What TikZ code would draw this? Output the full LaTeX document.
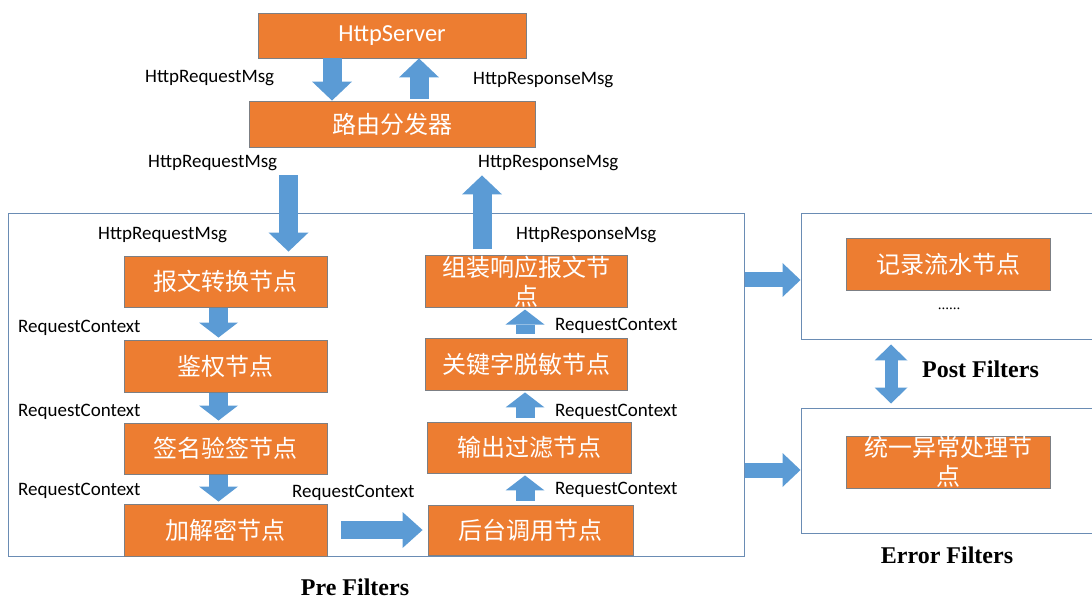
\documentclass[tikz,border=0pt]{standalone}
\usepackage{fontspec}
\setmainfont{Carlito}
\newfontfamily\cjk{Noto Sans CJK SC}
\newfontfamily\tnr{Liberation Serif}
\usetikzlibrary{arrows.meta}

\definecolor{boxfill}{HTML}{ED7D31}
\definecolor{boxline}{HTML}{7C7F84}
\definecolor{flow}{HTML}{5B9BD5}
\definecolor{frameline}{HTML}{6A8CB4}

\tikzset{
  proc/.style={fill=boxfill, draw=boxline, line width=0.9pt, inner sep=0pt,
    text=white, align=center, font=\cjk\fontsize{24}{29}\selectfont},
  frame/.style={draw=frameline, line width=1pt, inner sep=0pt},
  lbl/.style={font=\fontsize{19}{22}\selectfont, inner sep=0pt, anchor=west},
  title/.style={font=\tnr\bfseries\fontsize{24}{28}\selectfont, inner sep=0pt},
  bigflow/.style={draw=flow, line width=19pt, line cap=butt,
    -{Triangle[width=40pt,length=19pt,line width=0pt]}},
  stepflow/.style={draw=flow, line width=19pt, line cap=butt,
    -{Triangle[width=39pt,length=15pt,line width=0pt]}},
  passflow/.style={draw=flow, line width=18pt, line cap=butt,
    -{Triangle[width=36pt,length=20pt,line width=0pt]}},
  sideflow/.style={draw=flow, line width=15pt, line cap=butt,
    -{Triangle[width=34pt,length=18pt,line width=0pt]}},
  bothflow/.style={draw=flow, line width=13pt, line cap=butt,
    {Triangle[width=33pt,length=16pt,line width=0pt]}-{Triangle[width=33pt,length=16pt,line width=0pt]}},
}

\begin{document}
\begin{tikzpicture}[x=1pt,y=-1pt]
\useasboundingbox (0,0) rectangle (1092,601);

% filter frames
\node[frame, minimum width=736pt, minimum height=342pt] (pre) at (376,385) {};
\node[frame, minimum width=299pt, minimum height=126pt] (post) at (950.5,277) {};
\node[frame, minimum width=299pt, minimum height=125pt] (errf) at (950.5,470.5) {};

% entry boxes
\node[proc, minimum width=268pt, minimum height=45pt,
      font=\fontsize{24.5}{29}\selectfont] (srv) at (392,35.5) {HttpServer};
\node[proc, minimum width=286pt, minimum height=46pt] (router) at (392,124) {路由分发器};

% pre filter chain
\node[proc, minimum width=203pt, minimum height=51pt] (conv)  at (225.5,281.5) {报文转换节点};
\node[proc, minimum width=203pt, minimum height=52pt] (auth)  at (225.5,366) {鉴权节点};
\node[proc, minimum width=203pt, minimum height=51pt] (sign)  at (225.5,448.5) {签名验签节点};
\node[proc, minimum width=203pt, minimum height=52pt] (crypt) at (225.5,530) {加解密节点};
\node[proc, minimum width=205pt, minimum height=50pt] (call)  at (530.5,530) {后台调用节点};
\node[proc, minimum width=204pt, minimum height=51pt] (filt)  at (529,447.5) {输出过滤节点};
\node[proc, minimum width=202pt, minimum height=52pt] (mask)  at (526,364) {关键字脱敏节点};
\node[proc, minimum width=202pt, minimum height=51pt] (assem) at (526,281.5) {组装响应报文节\\点};

% post / error filters
\node[proc, minimum width=204pt, minimum height=52pt] (log) at (948,264) {记录流水节点};
\node[proc, minimum width=204pt, minimum height=52pt] (err) at (948,462) {统一异常处理节\\点};
\node[font=\tnr\fontsize{15}{16}\selectfont, inner sep=0pt] (more) at (949,309) {......};

% guide coordinates for the arrows
\coordinate (ax1) at (332,0);
\coordinate (ax2) at (419,0);
\coordinate (ax3) at (288.5,0);
\coordinate (ax4) at (482,0);
\coordinate (lx)  at (218.5,0);
\coordinate (rx)  at (525,0);
\coordinate (ax5) at (891,0);
\coordinate (ay)  at (0,530);
\coordinate (ay1) at (0,280);
\coordinate (ay2) at (0,470);

% arrows
\draw[bigflow] (srv.south -| ax1) -- (router.north -| ax1);
\draw[bigflow, shorten <=2pt] (router.north -| ax2) -- (srv.south -| ax2);
\draw[bigflow, shorten <=28pt, shorten >=4pt] (router.south -| ax3) -- (conv.north -| ax3);
\draw[bigflow, shorten <=6pt, shorten >=28pt] (assem.north -| ax4) -- (router.south -| ax4);

\draw[stepflow, shorten <=1pt, shorten >=2pt] (conv.south -| lx) -- (auth.north -| lx);
\draw[stepflow, shorten <=1pt, shorten >=2pt] (auth.south -| lx) -- (sign.north -| lx);
\draw[stepflow, shorten <=1pt, shorten >=2pt] (sign.south -| lx) -- (crypt.north -| lx);

\draw[passflow, shorten <=14pt, shorten >=5pt] (crypt.east |- ay) -- (call.west |- ay);

\draw[stepflow, shorten <=4pt, shorten >=2pt] (call.north -| rx) -- (filt.south -| rx);
\draw[stepflow, shorten <=4pt, shorten >=2pt] (filt.north -| rx) -- (mask.south -| rx);
\draw[stepflow, shorten <=4pt, shorten >=2pt] (mask.north -| rx) -- (assem.south -| rx);

\draw[sideflow] (pre.east |- ay1) -- (post.west |- ay1);
\draw[sideflow] (pre.east |- ay2) -- (errf.west |- ay2);
\draw[bothflow, shorten <=4pt, shorten >=4pt] (post.south -| ax5) -- (errf.north -| ax5);

% message labels
\node[lbl] (l1)  at (145,78)  {HttpRequestMsg};
\node[lbl] (l2)  at (473,80)  {HttpResponseMsg};
\node[lbl] (l3)  at (148,163) {HttpRequestMsg};
\node[lbl] (l4)  at (478,163) {HttpResponseMsg};
\node[lbl] (l5)  at (98,235)  {HttpRequestMsg};
\node[lbl] (l6)  at (516,235) {HttpResponseMsg};
\node[lbl] (l7)  at (18,328)  {RequestContext};
\node[lbl] (l8)  at (18,412)  {RequestContext};
\node[lbl] (l9)  at (18,491)  {RequestContext};
\node[lbl] (l10) at (292,493) {RequestContext};
\node[lbl] (l11) at (555,326) {RequestContext};
\node[lbl] (l12) at (555,412) {RequestContext};
\node[lbl] (l13) at (555,490) {RequestContext};

% group titles
\node[title, anchor=west] (tpost) at (922,369) {Post Filters};
\node[title] (terr) at (947,555) {Error Filters};
\node[title] (tpre) at (355,587) {Pre Filters};
\end{tikzpicture}
\end{document}
